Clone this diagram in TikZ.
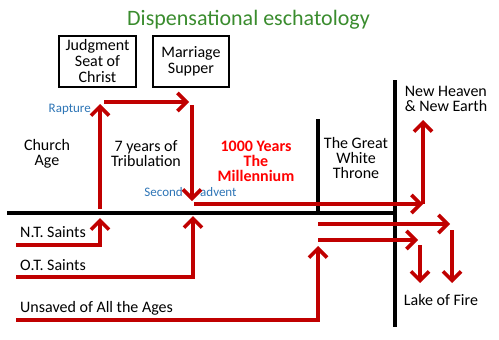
\documentclass[tikz,border=0pt]{standalone}
\usepackage{fontspec}
\setmainfont{Carlito}
\usepackage{xcolor}
\usetikzlibrary{arrows.meta, positioning}

\definecolor{lineRed}{RGB}{192,0,0}
\definecolor{titleGreen}{RGB}{58,140,46}
\definecolor{noteBlue}{RGB}{46,117,182}

\begin{document}
\begin{tikzpicture}[x=1pt, y=-1pt, >={Straight Barb[length=9pt,width=18pt]},
        redline/.style={draw=lineRed, line width=3.6pt},
        bar/.style={draw=black, line width=3.6pt},
        box/.style={draw, line width=1.2pt, align=center, minimum height=51pt,
            font=\fontsize{16}{16}\selectfont},
        lbl/.style={align=center, inner sep=0pt, font=\fontsize{16}{15}\selectfont},
        note/.style={text=noteBlue, inner sep=0pt, font=\fontsize{13}{13}\selectfont}]
                \useasboundingbox (0,0) rectangle (499,340);
                % 1. Tiêu đề và các hộp
                \node[anchor=base, inner sep=0pt, text=titleGreen, font=\fontsize{22}{22}\selectfont]
                    (title) at (248.5,25) {Dispensational eschatology};
                \node[box, minimum width=77pt] (judgment) at (97.5,61.5) {Judgment\\Seat of\\Christ};
                \node[box, minimum width=76pt] (supper) at (191,61.5) {Marriage\\Supper};
                
                % 2. Các nhãn
                \node[lbl] (church) at (47,154) {Church\\Age};
                \node[lbl] (tribulation) at (146,154) {7 years of\\Tribulation};
                \node[lbl, text=red, font=\fontsize{16}{15}\selectfont\bfseries]
                    (millennium) at (256,161.5) {1000 Years\\The\\Millennium};
                \node[lbl] (throne) at (356,157.5) {The Great\\White\\Throne};
                \node[lbl, align=left] (newearth) at (446,99) {New Heaven\\\& New Earth};
                \node[note, anchor=base east] (rapture) at (91,112) {Rapture};
                \node[note, anchor=base east] (second) at (183,196) {Second};
                \node[note, anchor=base west] (advent) at (200,196) {advent};
                \node[lbl, anchor=base west] (ntsaints) at (20,237) {N.T. Saints};
                \node[lbl, anchor=base west] (otsaints) at (20,270) {O.T. Saints};
                \node[lbl, anchor=base west] (unsaved) at (20,312) {Unsaved of All the Ages};
                \node[lbl, anchor=base] (lake) at (441,305) {Lake of Fire};
                
                % 3. Đường thời gian (màu đen)
                \coordinate (lineL) at (7,213);
                \coordinate (lineR) at (397,213);
                \coordinate (throneTop) at (318,119);
                \coordinate (throneBot) at (318,213);
                \coordinate (endTop) at (395,80);
                \coordinate (endBot) at (395,327);
                \draw[bar] (lineL) -- (lineR);
                \draw[bar] (throneTop) -- (throneBot);
                \draw[bar] (endTop) -- (endBot);
                
                % 4. Các mũi tên đỏ
                \coordinate (ntStart) at (16,245);
                \coordinate (ntTip) at (100,218);
                \coordinate (raptureLow) at (100,209);
                \coordinate (raptureTip) at (100,104);
                \coordinate (crossL) at (104,102);
                \coordinate (crossTip) at (189,102);
                \coordinate (adventTop) at (192,105);
                \coordinate (adventTip) at (192,201);
                \coordinate (otStart) at (16,277);
                \coordinate (otTip) at (193,216);
                \coordinate (milL) at (194,204);
                \coordinate (milTip) at (423,204);
                \coordinate (heavenTip) at (423,120);
                \coordinate (unStart) at (16,320);
                \coordinate (unTip) at (318,246);
                \coordinate (upperL) at (318,224);
                \coordinate (upperTip) at (450,224);
                \coordinate (lowerL) at (318,240);
                \coordinate (lowerTip) at (418,240);
                \coordinate (fireA) at (420,245);
                \coordinate (fireATip) at (420,283);
                \coordinate (fireB) at (452,230);
                \coordinate (fireBTip) at (452,283);
                
                \draw[redline, ->] (ntStart) -| (ntTip);
                \draw[redline, ->] (raptureLow) -- (raptureTip);
                \draw[redline, ->] (crossL) -- (crossTip);
                \draw[redline, ->] (adventTop) -- (adventTip);
                \draw[redline, ->] (otStart) -| (otTip);
                \draw[redline, ->] (milL) -- (milTip);
                \draw[redline, ->] (milTip) -- (heavenTip);
                \draw[redline, ->] (unStart) -| (unTip);
                \draw[redline, ->] (upperL) -- (upperTip);
                \draw[redline, ->] (lowerL) -- (lowerTip);
                \draw[redline, ->] (fireA) -- (fireATip);
                \draw[redline, ->] (fireB) -- (fireBTip);
\end{tikzpicture}
\end{document}
